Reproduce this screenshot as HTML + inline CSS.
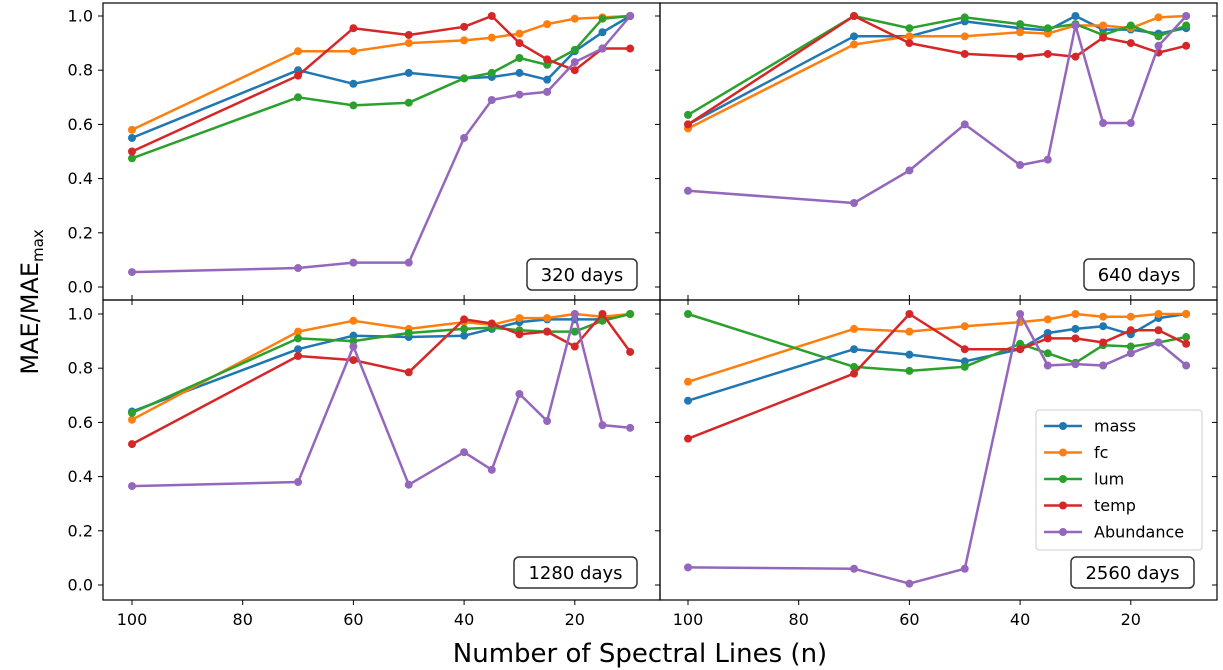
<!DOCTYPE html>
<html><head><meta charset="utf-8"><style>
body{margin:0;background:#fff;}
svg{display:block;font-family:"DejaVu Sans","Liberation Sans",sans-serif;}
</style></head><body>
<svg id="chart" width="1223" height="670"></svg>
<script>
const xValues=[100,70,60,50,40,35,30,25,20,15,10];
const seriesNames=["mass","fc","lum","temp","Abundance"];
const colors=["#1f77b4","#ff7f0e","#2ca02c","#d62728","#9467bd"];
const panelLabels=["320 days","640 days","1280 days","2560 days"];
const xTicks=[100,80,60,40,20];
const yTicks=[0,0.2,0.4,0.6,0.8,1.0];
const p320Mass=[.55,.80,.75,.79,.77,.775,.79,.765,.87,.94,1.0];
const p320Fc=[.58,.87,.87,.90,.91,.92,.935,.97,.99,.995,1.0];
const p320Lum=[.475,.70,.67,.68,.77,.79,.845,.82,.875,.99,1.0];
const p320Temp=[.50,.78,.955,.93,.96,1.0,.90,.84,.80,.88,.88];
const p320Abund=[.055,.07,.09,.09,.55,.69,.71,.72,.83,.88,1.0];
const p640Mass=[.60,.925,.925,.98,.955,.947,1.0,.95,.95,.935,.955];
const p640Fc=[.585,.895,.925,.925,.94,.935,.965,.965,.955,.995,1.0];
const p640Lum=[.635,1.0,.955,.995,.97,.955,.97,.93,.965,.925,.965];
const p640Temp=[.60,1.0,.90,.86,.85,.86,.85,.92,.90,.865,.89];
const p640Abund=[.355,.31,.43,.60,.45,.47,.965,.605,.605,.89,1.0];
const p1280Mass=[.64,.87,.92,.915,.92,.945,.97,.98,.98,.98,1.0];
const p1280Fc=[.61,.935,.975,.945,.97,.96,.985,.985,1.0,.99,1.0];
const p1280Lum=[.635,.91,.90,.93,.945,.95,.94,.935,.935,.975,1.0];
const p1280Temp=[.52,.845,.83,.785,.98,.965,.925,.935,.88,1.0,.86];
const p1280Abund=[.365,.38,.88,.37,.49,.425,.705,.605,1.0,.59,.58];
const p2560Mass=[.68,.87,.85,.825,.87,.93,.945,.955,.925,.985,1.0];
const p2560Fc=[.75,.945,.935,.955,.97,.98,1.0,.99,.99,1.0,1.0];
const p2560Lum=[1.0,.805,.79,.805,.89,.855,.82,.885,.88,.895,.915];
const p2560Temp=[.54,.78,1.0,.87,.87,.91,.91,.895,.94,.94,.89];
const p2560Abund=[.065,.06,.005,.06,1.0,.81,.815,.81,.855,.895,.81];
const panelData=[[p320Mass,p320Fc,p320Lum,p320Temp,p320Abund],[p640Mass,p640Fc,p640Lum,p640Temp,p640Abund],[p1280Mass,p1280Fc,p1280Lum,p1280Temp,p1280Abund],[p2560Mass,p2560Fc,p2560Lum,p2560Temp,p2560Abund]];

const NS="http://www.w3.org/2000/svg";
const svg=document.getElementById('chart');
function mk(tag,attrs,parent){const e=document.createElementNS(NS,tag);for(const k in attrs)e.setAttribute(k,attrs[k]);(parent||svg).appendChild(e);return e;}
const panels=[{x0:103,x1:660,y0:3,y1:300,px100:132,ytop:16,ybot:287},
{x0:660,x1:1217,y0:3,y1:300,px100:688,ytop:16,ybot:287},
{x0:103,x1:660,y0:300,y1:600,px100:132,ytop:314,ybot:585},
{x0:660,x1:1217,y0:300,y1:600,px100:688,ytop:314,ybot:585}];
const pxPerUnit=5.535;
panels.forEach((p,i)=>{
  const g=mk('g',{});
  
  
  const sx=v=>p.px100+(100-v)*pxPerUnit;
  const sy=v=>p.ybot-v*(p.ybot-p.ytop);
  xTicks.forEach(t=>{
    const x=sx(t);
    const tk=mk('line',{x1:x,x2:x,y1:p.y1,y2:p.y1+5,stroke:'#000','stroke-width':1},g);
    
    
    if(i<2){mk('line',{x1:x,x2:x,y1:p.y1-5,y2:p.y1,stroke:'#000','stroke-width':1},g);}
    if(i>=2){
      const lb=mk('text',{x:x,y:625,'text-anchor':'middle','font-size':16,fill:'#000'},g);
      lb.textContent=t;
      
      
    }
  });
  yTicks.forEach(t=>{
    const y=sy(t);
    mk('line',{x1:p.x0-5,x2:p.x0,y1:y,y2:y,stroke:'#000','stroke-width':1},g);
    if(i%2==1) mk('line',{x1:p.x1-5,x2:p.x1,y1:y,y2:y,stroke:'#000','stroke-width':1},g);
    if(i%2==0){
      const lb=mk('text',{x:p.x0-10,y:y+5.5,'text-anchor':'end','font-size':16,fill:'#000'},g);
      lb.textContent=t.toFixed(1);
      
      
    }
  });
  panelData[i].forEach((vals,s)=>{
    const pts=vals.map((v,k)=>sx(xValues[k]).toFixed(1)+','+sy(v).toFixed(1)).join(' ');
    const pl=mk('polyline',{points:pts,fill:'none',stroke:colors[s],'stroke-width':2.5,'stroke-linejoin':'round'},g);
    
    
    vals.forEach((v,k)=>{
      const c=mk('circle',{cx:sx(xValues[k]),cy:sy(v),r:4,fill:colors[s]},g);
      
      
    });
  });
  const fr=mk('rect',{x:p.x0,y:p.y0,width:p.x1-p.x0,height:p.y1-p.y0,fill:'none',stroke:'#000','stroke-width':1.2},g);
  
  
  const bw=panelLabels[i].length>8?123:110;
  const bx=p.x1-23-bw, by=p.ybot-28;
  const ab=mk('rect',{x:bx,y:by,width:bw,height:31,rx:5,fill:'#fff',stroke:'#333','stroke-width':1.5},g);
  
  
  const at=mk('text',{x:bx+bw/2,y:by+22,'text-anchor':'middle','font-size':18,fill:'#000'},g);
  at.textContent=panelLabels[i];
  
  
});
const lg=mk('g',{});


mk('rect',{x:1036,y:410,width:166,height:140,rx:3,fill:'#fff',stroke:'#ccc','stroke-width':1},lg);
seriesNames.forEach((n,s)=>{
  const y=426+s*26.5;
  const e=mk('g',{},lg);
  
  
  mk('line',{x1:1044,x2:1082,y1:y,y2:y,stroke:colors[s],'stroke-width':2.5},e);
  mk('circle',{cx:1063,cy:y,r:4,fill:colors[s]},e);
  const t=mk('text',{x:1094,y:y+5.5,'font-size':16,fill:'#000'},e);
  t.textContent=n;
});
const yl=mk('text',{x:0,y:0,transform:'translate(38,302) rotate(-90)','text-anchor':'middle','font-size':24,fill:'#000'});


yl.innerHTML='MAE/MAE<tspan font-size="15" dy="5">max</tspan>';
const xl=mk('text',{x:640,y:662,'text-anchor':'middle','font-size':26,fill:'#000'});
xl.textContent='Number of Spectral Lines (n)';


</script>
</body></html>
